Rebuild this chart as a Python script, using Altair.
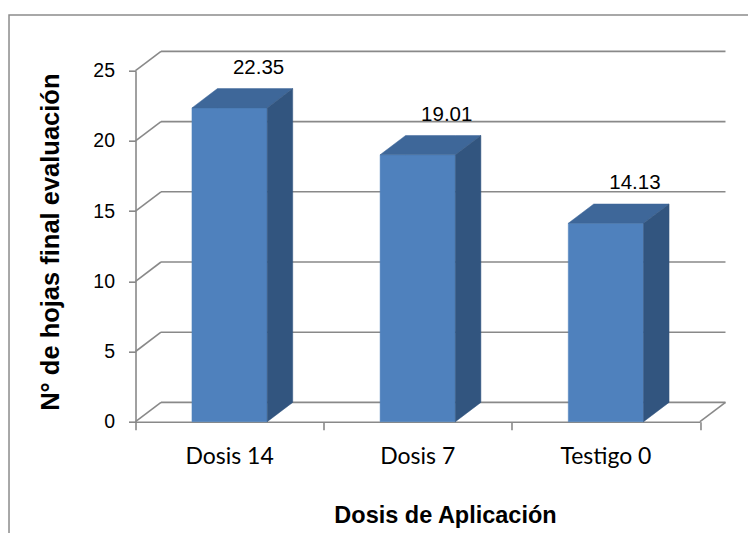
import altair as alt
import pandas as pd

# ---- data ----
categories = ["Dosis 14", "Dosis 7", "Testigo 0"]
values = [22.35, 19.01, 14.13]
label_texts = ["22.35", "19.01", "14.13"]
y_ticks = [0, 5, 10, 15, 20, 25]
x_title = "Dosis de Aplicación"
y_title = "N° de hojas final evaluación"

# ---- style constants (3-D look) ----
BAR_L, BAR_R = 0.3, 0.7          # bar front face inside each category slot
DX, DY = 0.1355, 1.375           # depth of the 3-D projection, in scale units
GRID = "#898989"
FRONT, TOP, SIDE = "#4F81BD", "#3E6799", "#32557F"
NUM_FONT = "Liberation Sans, Arial, sans-serif"
SANS = "Liberation Sans, Arial, sans-serif"
CAT_FONT = "Lato, Open Sans, sans-serif"

n = len(categories)
xs = alt.Scale(domain=[0, n], nice=False, zero=False)
ys = alt.Scale(domain=[0, 25], nice=False, zero=False)

# back wall gridlines
grid_df = pd.DataFrame({"v": y_ticks})
grid_df["x"] = DX
grid_df["x2"] = n + DX
grid_df["y"] = grid_df["v"] + DY

# left wall diagonals + floor right diagonal
diag_df = pd.DataFrame({"v": y_ticks})
diag_df["x"] = 0.0
diag_df["x2"] = DX
diag_df["y"] = diag_df["v"].astype(float)
diag_df["y2"] = diag_df["v"] + DY
diag_df = pd.concat([diag_df, pd.DataFrame({"v": [0], "x": [float(n)], "x2": [n + DX],
                                            "y": [0.0], "y2": [DY]})], ignore_index=True)

bars_df = pd.DataFrame({
    "cat": categories,
    "v": values,
    "xl": [i + BAR_L for i in range(n)],
    "xr": [i + BAR_R for i in range(n)],
    "xc": [i + 0.5 for i in range(n)],
    "label": label_texts,
    "y0": [0.0] * n,
})

side_rows, top_rows = [], []
for c, v, xl, xr in zip(categories, values, bars_df["xl"], bars_df["xr"]):
    side_rows += [{"cat": c, "x": xr, "y": 0.0, "y2": v},
                  {"cat": c, "x": xr + DX, "y": DY, "y2": v + DY}]
    top_rows += [{"cat": c, "x": xl, "y": v, "y2": v},
                 {"cat": c, "x": xl + DX, "y": v, "y2": v + DY},
                 {"cat": c, "x": xr, "y": v, "y2": v + DY},
                 {"cat": c, "x": xr + DX, "y": v + DY, "y2": v + DY}]
side_df = pd.DataFrame(side_rows)
top_df = pd.DataFrame(top_rows)

x_axis = alt.Axis(values=list(range(n + 1)), labels=False, ticks=True, tickSize=8,
                  tickColor=GRID, tickWidth=1.6, domainColor=GRID, domainWidth=1.6,
                  grid=False, title=x_title, titleFont=SANS, titleFontSize=23.5,
                  titleFontWeight="bold", titleColor="black", titleX=309.5, titleY=101.3,
                  titleBaseline="alphabetic", titleAlign="center")
y_axis = alt.Axis(values=y_ticks, tickSize=7, tickColor=GRID, tickWidth=1.6,
                  domainColor=GRID, domainWidth=1.6, grid=False,
                  labelFont=NUM_FONT, labelFontSize=19.5, labelColor="black", labelPadding=14,
                  title=y_title, titleFont=SANS, titleFontSize=25.5, titleFontWeight="bold",
                  titleColor="black", titleAngle=270, titleX=-77.5, titleY=171,
                  titleBaseline="alphabetic", titleAlign="center")


def X(field):
    return alt.X(field, scale=xs, axis=x_axis)


def Y(field, **kw):
    return alt.Y(field, scale=ys, axis=y_axis, **kw)


grid = alt.Chart(grid_df).mark_rule(color=GRID, strokeWidth=1.6).encode(
    x=X("x:Q"), x2="x2:Q", y=Y("y:Q"),
)

diag = alt.Chart(diag_df).mark_rule(color=GRID, strokeWidth=1.6).encode(
    x=X("x:Q"), x2="x2:Q", y=Y("y:Q"), y2="y2:Q",
)

front = alt.Chart(bars_df).mark_rect(color=FRONT, stroke=FRONT, strokeWidth=0.5).encode(
    x=X("xl:Q"), x2="xr:Q", y=Y("v:Q"), y2="y0:Q",
)

top = alt.Chart(top_df).mark_area(color=TOP, stroke=TOP, strokeWidth=0.5, interpolate="linear").encode(
    x=X("x:Q"), y=Y("y:Q", stack=None), y2="y2:Q", detail="cat:N",
)

side = alt.Chart(side_df).mark_area(color=SIDE, stroke=SIDE, strokeWidth=0.5, interpolate="linear").encode(
    x=X("x:Q"), y=Y("y:Q", stack=None), y2="y2:Q", detail="cat:N",
)

labels = alt.Chart(bars_df).mark_text(font=NUM_FONT, fontSize=20.5, color="black", dx=29, dy=-34,
                                      baseline="alphabetic", align="center").encode(
    x=X("xc:Q"), y=Y("v:Q"), text="label:N",
)

cat_labels = alt.Chart(bars_df).mark_text(font=CAT_FONT, fontSize=23, color="black", dy=42.3,
                                          baseline="alphabetic", align="center").encode(
    x=X("xc:Q"), y=Y("y0:Q"), text="cat:N",
)

frame = alt.Chart(pd.DataFrame({"a": [0]})).mark_rect(fill=None, stroke="#8c8c8c", strokeWidth=1.5).encode(
    x=alt.value(-126.5), x2=alt.value(700), y=alt.value(-55.7), y2=alt.value(600),
)

chart = alt.layer(grid, diag, front, top, side, labels, cat_labels, frame).properties(
    width=564.5, height=351,
    autosize=alt.AutoSizeParams(type="none"),
    padding={"left": 127.5, "top": 62.7, "right": 48, "bottom": 111},
    background="white",
).configure_view(stroke=None)

chart.save("out.html", embed_options={"renderer": "svg", "actions": False})
